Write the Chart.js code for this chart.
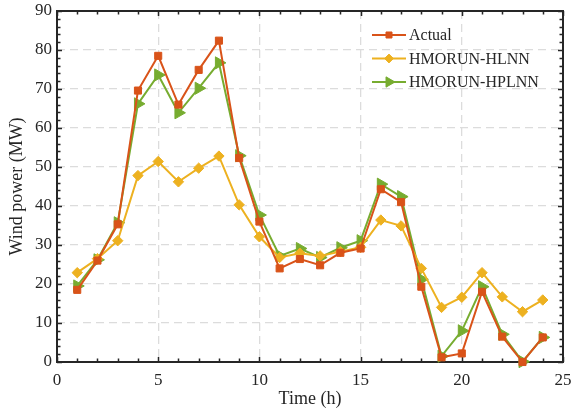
<!DOCTYPE html>
<html><head><meta charset="utf-8">
<script src="https://cdn.jsdelivr.net/npm/chart.js@4.4.0/dist/chart.umd.min.js"></script>
<style>html,body{margin:0;padding:0;background:#fff}#wrap{width:571px;height:416px}</style>
</head><body><div id="wrap"><canvas id="c" width="571" height="416"></canvas></div>
<script>
const hours = [1,2,3,4,5,6,7,8,9,10,11,12,13,14,15,16,17,18,19,20,21,22,23,24];
const actual = [18.5,26,35.3,69.6,78.5,66,74.9,82.4,52.3,36,24,26.4,24.8,28,29.1,44.3,41,19.3,1.2,2.2,18,6.5,0,6.3];
const hlnn = [22.9,26.5,31.1,47.8,51.4,46.2,49.7,52.8,40.3,32.1,26.8,27.9,27.2,28.3,29.4,36.4,34.9,24,14,16.6,22.9,16.7,12.9,15.9];
const hplnn = [19.5,26.2,35.7,66.2,73.6,63.9,70.2,76.7,52.9,37.7,27.2,29.1,26.8,29.3,31.1,45.6,42.4,21.2,1.5,8.0,19.3,7.1,0.1,6.3];
const seriesNames = ['Actual','HMORUN-HLNN','HMORUN-HPLNN'];
const xTicks = [0,5,10,15,20,25];
const yTicks = [0,10,20,30,40,50,60,70,80,90];
const xTitle = 'Time (h)';
const yTitle = 'Wind power (MW)';

const FONT = "'Liberation Serif', 'Times New Roman', serif";
const AXC = '#262626';
const colors = ['#D95319','#EDB120','#77AC30'];
const styles = [
  {pointStyle:'rect', radius:5, rotation:0},
  {pointStyle:'rectRot', radius:5.2, rotation:0},
  {pointStyle:'triangle', radius:7, rotation:90}
];
const series = [actual, hlnn, hplnn];

const datasets = series.map((s,i)=>({
  label: seriesNames[i],
  data: hours.map((h,j)=>({x:h, y:s[j]})),
  borderColor: colors[i],
  backgroundColor: colors[i],
  borderWidth: 2,
  pointStyle: styles[i].pointStyle,
  pointRadius: styles[i].radius,
  pointRotation: styles[i].rotation,
  pointBorderWidth: 1,
  pointBackgroundColor: colors[i],
  pointBorderColor: colors[i],
  tension: 0,
  clip: false
}));

const framePlugin = {
  id: 'frame',
  beforeDatasetsDraw(chart){
    const {ctx, chartArea:a, scales:{x, y}} = chart;
    ctx.save();
    ctx.strokeStyle = AXC;
    ctx.lineWidth = 1.5;
    ctx.beginPath();
    for(let v=0; v<=25; v+=1){
      const px = Math.round(x.getPixelForValue(v))+0.5;
      const len = (v%5===0)?5:3.5;
      ctx.moveTo(px, a.bottom); ctx.lineTo(px, a.bottom-len);
      ctx.moveTo(px, a.top); ctx.lineTo(px, a.top+len);
    }
    for(let v=0; v<=90; v+=2){
      const py = Math.round(y.getPixelForValue(v))+0.5;
      const len = (v%10===0)?5:3.5;
      ctx.moveTo(a.left, py); ctx.lineTo(a.left+len, py);
      ctx.moveTo(a.right, py); ctx.lineTo(a.right-len, py);
    }
    ctx.stroke();
    ctx.lineWidth = 2;
    ctx.strokeRect(a.left, a.top, a.right-a.left, a.bottom-a.top);
    ctx.restore();
  }
};

const legendPlugin = {
  id: 'customLegend',
  afterDatasetsDraw(chart){
    const ctx = chart.ctx;
    ctx.save();
    chart.data.datasets.forEach((ds,i)=>{
      const yy = 35 + i*23.5;
      ctx.strokeStyle = ds.borderColor;
      ctx.lineWidth = 2;
      ctx.beginPath(); ctx.moveTo(372, yy); ctx.lineTo(406, yy); ctx.stroke();
      ctx.fillStyle = ds.pointBackgroundColor;
      ctx.strokeStyle = ds.pointBorderColor;
      ctx.lineWidth = 1;
      Chart.helpers.drawPoint(ctx, {pointStyle: ds.pointStyle, radius: ds.pointRadius*0.85, rotation: ds.pointRotation, borderWidth:1}, 389, yy);
      ctx.fillStyle = AXC;
      ctx.font = "16px " + FONT;
      ctx.textBaseline = 'middle';
      ctx.textAlign = 'left';
      ctx.fillText(ds.label, 409, yy+1);
    });
    ctx.restore();
  }
};

new Chart(document.getElementById('c'), {
  type: 'line',
  data: { datasets },
  options: {
    responsive: false,
    animation: false,
    devicePixelRatio: 1,
    layout: { padding: {top: 11, right: 8, left: 0, bottom: 0} },
    plugins: { legend: {display:false}, tooltip: {enabled:false} },
    scales: {
      x: {
        type: 'linear', min: 0, max: 25,
        afterBuildTicks: s => { s.ticks = xTicks.map(v=>({value:v})); },
        afterFit: s => { s.height = 54; s.paddingLeft = 0; s.paddingRight = 0; },
        grid: { color: '#dcdcdc', lineWidth: 1.3, drawTicks: false },
        border: { display: false, dash: [8,5] },
        ticks: { font: {family: FONT, size: 17}, color: AXC, padding: 8, maxRotation: 0 },
        title: { display: true, text: xTitle, font: {family: FONT, size: 18}, color: AXC, padding: {top:0, bottom:6} }
      },
      y: {
        type: 'linear', min: 0, max: 90,
        afterBuildTicks: s => { s.ticks = yTicks.map(v=>({value:v})); },
        afterFit: s => { s.width = 57; s.paddingTop = 0; s.paddingBottom = 0; },
        grid: { color: '#dcdcdc', lineWidth: 1.3, drawTicks: false },
        border: { display: false, dash: [8,5] },
        ticks: { font: {family: FONT, size: 17}, color: AXC, padding: 5 },
        title: { display: true, text: yTitle, font: {family: FONT, size: 18}, color: AXC, padding: {top:6, bottom:0} }
      }
    }
  },
  plugins: [framePlugin, legendPlugin]
});
</script>
</body></html>
